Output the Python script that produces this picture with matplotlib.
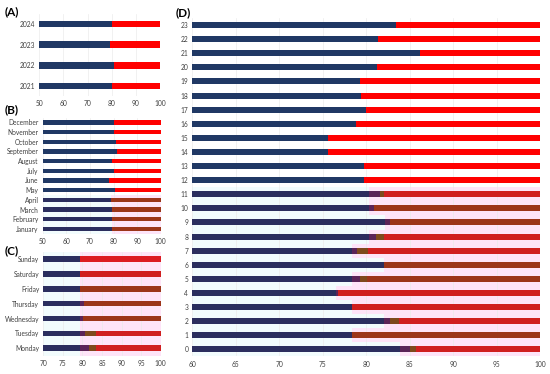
import numpy as np
import matplotlib.pyplot as plt

plt.rcParams['font.family'] = ['Lato', 'DejaVu Sans']

# (A) yearly
years = ['2021', '2022', '2023', '2024']
year_vals = [80.0, 80.9, 79.3, 80.0]

# (B) monthly
months = ['January', 'February', 'March', 'April', 'May', 'June', 'July',
          'August', 'September', 'October', 'November', 'December']
month_vals = [79.4, 79.4, 79.4, 78.9, 80.7, 78.3, 80.4, 79.4, 81.4, 81.1, 80.3, 80.4]
month_rest = ['brown', 'brown', 'brown', 'brown'] + ['red'] * 8

# (C) weekday: navy end, purple end, olive end, remainder colour
days = ['Monday', 'Tuesday', 'Wednesday', 'Thursday', 'Friday', 'Saturday', 'Sunday']
day_vals = [79.4, 79.4, 79.4, 79.4, 79.4, 79.4, 79.4]
day_purple = [81.6, 80.7, 80.1, 80.5, 79.4, 79.4, 79.4]
day_olive = [83.5, 83.4, 80.1, 80.5, 79.4, 79.4, 79.4]
day_rest = ['dred', 'dred', 'brown', 'brown', 'brown', 'dred', 'dred2']

# (D) hourly
hours = [str(h) for h in range(24)]
hour_vals = [83.9, 78.4, 82.0, 78.4, 76.5, 78.4, 82.0, 78.4, 80.3, 82.2, 80.3, 80.3,
             79.8, 79.7, 75.6, 75.6, 78.8, 80.0, 79.4, 79.3, 81.3, 86.2, 81.4, 83.4]
hour_purple = [85.0, 78.4, 82.7, 78.4, 76.8, 79.3, 82.0, 78.9, 81.1, 82.7, 80.9, 81.6,
               79.8, 79.7, 75.6, 75.6, 78.8, 80.0, 79.4, 79.3, 81.3, 86.2, 81.4, 83.4]
hour_olive = [85.7, 78.4, 83.8, 78.4, 76.8, 80.1, 82.0, 80.2, 82.0, 82.7, 80.9, 82.0,
              79.8, 79.7, 75.6, 75.6, 78.8, 80.0, 79.4, 79.3, 81.3, 86.2, 81.4, 83.4]
hour_rest = ['dred', 'brown', 'dred', 'dred', 'dred', 'brown', 'brown', 'dred', 'dred',
             'brown', 'brown', 'dred'] + ['red'] * 12

colors = {'navy': '#203864', 'navy2': '#2B2E5E', 'purple': '#5B2458', 'olive': '#7E4A1C',
          'brown': '#9C3519', 'dred': '#D01F1F', 'dred2': '#DC1B22', 'red': '#FF0000'}
bg_pink = '#FEE4F8'
bg_cyan = '#F2FCFD'


def panel(ax, labels, vals, purple, olive, rest, xmin, step, h):
    y = np.arange(len(labels))
    for i in range(len(labels)):
        dark = rest[i] != 'red'
        navy = colors['navy2'] if dark else colors['navy']
        if dark:
            ax.barh(y[i], 100.6 - vals[i], left=vals[i], height=1.0, color=bg_pink, zorder=0)
            ax.barh(y[i], vals[i] - xmin, left=xmin, height=1.0, color=bg_cyan, zorder=0)
        ax.barh(y[i], vals[i] - xmin, left=xmin, height=h, color=navy, zorder=2)
        ax.barh(y[i], purple[i] - vals[i], left=vals[i], height=h, color=colors['purple'], zorder=2)
        ax.barh(y[i], olive[i] - purple[i], left=purple[i], height=h, color=colors['olive'], zorder=2)
        ax.barh(y[i], 100 - olive[i], left=olive[i], height=h, color=colors[rest[i]], zorder=2)
    ax.set_xlim(xmin, 100)
    ax.set_ylim(-0.5, len(labels) - 0.5)
    ax.set_yticks(y)
    ax.set_yticklabels(labels)
    ax.set_xticks(np.arange(xmin, 100.1, step))
    ax.tick_params(length=0, labelsize=4.8, colors='#404040', pad=3)
    ax.grid(axis='x', color='#EBEBEB', linewidth=0.5, zorder=1)
    ax.set_axisbelow(True)
    for s in ax.spines.values():
        s.set_visible(False)


fig = plt.figure(figsize=(5.5, 3.74), dpi=100)
W, H = 550, 374


def add_axes(l, r, t, b):
    return fig.add_axes([l / W, 1 - b / H, (r - l) / W, (b - t) / H])


axA = add_axes(39.3, 160, 13.7, 96.3)
panel(axA, years, year_vals, year_vals, year_vals, ['red'] * 4, 50, 10, 0.33)
axB = add_axes(42.7, 160.7, 117.5, 233.8)
panel(axB, months, month_vals, month_vals, month_vals, month_rest, 50, 10, 0.45)
axC = add_axes(43.3, 160.7, 251.6, 355.7)
panel(axC, days, day_vals, day_purple, day_olive, day_rest, 70, 5, 0.38)
axD = add_axes(192.3, 540, 18, 356.4)
panel(axD, hours, hour_vals, hour_purple, hour_olive, hour_rest, 60, 5, 0.42)

for lab, x, y in [('(A)', 5, 12), ('(B)', 5, 110), ('(C)', 5, 251), ('(D)', 176, 13)]:
    fig.text(x / W, 1 - y / H, lab, fontsize=8.5, fontweight='bold', va='center', ha='left')

fig.savefig('out.png', dpi=100)
